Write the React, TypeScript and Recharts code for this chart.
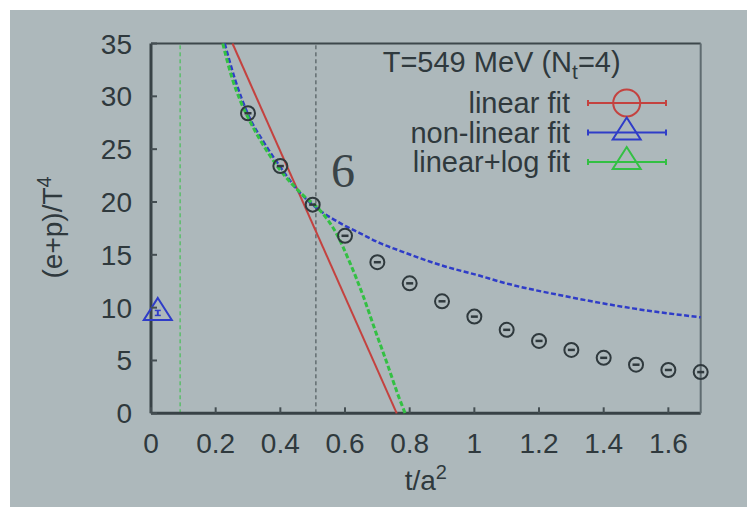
import React from 'react';
import {
  ComposedChart,
  Scatter,
  XAxis,
  YAxis,
  ReferenceLine,
  Legend,
  Label
} from 'recharts';

// lattice data, (e+p)/T^4 vs flow time t/a^2
const tValues = [0.3, 0.4, 0.5, 0.6, 0.7, 0.8, 0.9, 1.0, 1.1, 1.2, 1.3, 1.4, 1.5, 1.6, 1.7];
const epValues = [28.4, 23.4, 19.75, 16.8, 14.3, 12.3, 10.6, 9.15, 7.9, 6.85, 6.0, 5.25, 4.6, 4.1, 3.9];

// extrapolated value of the non-linear fit at t -> 0
const extrapT = [0.021];
const extrapE = [9.5];

// fit curves
const linearFitT = [0.252, 0.76];
const linearFitE = [35, 0];
const nonLinearFitT = [0.228, 0.26, 0.3, 0.35, 0.4, 0.46, 0.52, 0.585, 0.647, 0.71, 0.77, 0.895, 1.02, 1.08, 1.29, 1.49, 1.7];
const nonLinearFitE = [35, 31.6, 28.3, 25.6, 23.3, 20.9, 19.25, 18.0, 17.03, 16.08, 15.38, 14.03, 12.99, 12.45, 11.03, 9.93, 9.08];
const logFitT = [0.222, 0.25, 0.276, 0.3, 0.337, 0.4, 0.47, 0.523, 0.57, 0.616, 0.657, 0.693, 0.73, 0.766, 0.786];
const logFitE = [35, 31.8, 29.6, 28.0, 25.9, 23.0, 20.65, 19.2, 17.2, 14.19, 11.03, 7.88, 4.73, 1.57, 0];

// vertical markers
const greenCut = 0.09;
const blackCut = 0.51;

const xTicks = [0, 0.2, 0.4, 0.6, 0.8, 1.0, 1.2, 1.4, 1.6];
const yTicks = [0, 5, 10, 15, 20, 25, 30, 35];

const legendNames = ['linear fit', 'non-linear fit', 'linear+log fit'];
const legendMarkers = ['circle', 'triangle', 'triangle'];

const BG = '#adb8bb';
const INK = '#2f393d';
const TICK = '#444e52';
const RED = '#c4423f';
const BLUE = '#2f3cc8';
const GREEN = '#33c043';
const FONT = '"Liberation Sans", Arial, sans-serif';
const legendColors = [RED, BLUE, GREEN];

const toRows = (ts: number[], es: number[]) => ts.map((t, i) => ({ t, e: es[i] }));
const fmt = (v: number) => String(Math.round(v * 10) / 10);

const BottomTick = (props: any) => {
  const { x, y, payload } = props;
  return (
    <g>
      <line x1={x} y1={y} x2={x} y2={y - 6} stroke={TICK} strokeWidth={2} />
      <text x={x} y={y + 40} textAnchor="middle" fill={INK} fontSize={28} fontFamily={FONT}>
        {fmt(payload.value)}
      </text>
    </g>
  );
};

const LeftTick = (props: any) => {
  const { x, y, payload } = props;
  return (
    <g>
      <line x1={x} y1={y} x2={x + 6} y2={y} stroke={TICK} strokeWidth={2} />
      <text x={x - 19} y={y + 10} textAnchor="end" fill={INK} fontSize={28} fontFamily={FONT}>
        {payload.value}
      </text>
    </g>
  );
};

const TopTick = (props: any) => {
  const { x, y } = props;
  return <line x1={x} y1={y} x2={x} y2={y + 6} stroke="#5b666a" strokeWidth={2} />;
};

const RightTick = (props: any) => {
  const { x, y } = props;
  return <line x1={x} y1={y} x2={x - 6} y2={y} stroke="#5b666a" strokeWidth={2} />;
};

const DataPoint = (props: any) => {
  const { cx, cy } = props;
  return (
    <g>
      <circle cx={cx} cy={cy} r={7} fill="none" stroke={INK} strokeWidth={2} />
      <line x1={cx - 3.5} y1={cy} x2={cx + 3.5} y2={cy} stroke={INK} strokeWidth={2.5} />
    </g>
  );
};

const trianglePath = (cx: number, cy: number) =>
  `M${cx},${cy - 15} L${cx + 14},${cy + 7} L${cx - 14},${cy + 7} Z`;

const ExtrapPoint = (props: any) => {
  const { cx, cy } = props;
  return (
    <g>
      <path d={trianglePath(cx, cy)} fill="none" stroke={BLUE} strokeWidth={2} />
      <line x1={cx} y1={cy - 2.5} x2={cx} y2={cy + 2.5} stroke={BLUE} strokeWidth={2} />
      <line x1={cx - 3} y1={cy - 2.5} x2={cx + 3} y2={cy - 2.5} stroke={BLUE} strokeWidth={1.5} />
      <line x1={cx - 3} y1={cy + 2.5} x2={cx + 3} y2={cy + 2.5} stroke={BLUE} strokeWidth={1.5} />
    </g>
  );
};

const NoShape = () => <g />;

const YTitle = (props: any) => {
  const vb = props.viewBox;
  const cx = vb.x + 52;
  const cy = vb.y + vb.height / 2 - 1;
  return (
    <text x={cx} y={cy} transform={`rotate(-90 ${cx} ${cy})`} textAnchor="middle" fill={INK} fontSize={28} fontFamily={FONT}>
      (e+p)/T<tspan dy={-11} fontSize={20}>4</tspan>
    </text>
  );
};

const XTitle = (props: any) => {
  const vb = props.viewBox;
  return (
    <text x={vb.x + vb.width / 2} y={vb.y + 77} textAnchor="middle" fill={INK} fontSize={28} fontFamily={FONT}>
      t/a<tspan dy={-11} fontSize={20}>2</tspan>
    </text>
  );
};

const SixLabel = (props: any) => {
  const vb = props.viewBox;
  return (
    <text x={vb.x + 27} y={vb.y + 143} textAnchor="middle" fill="#3a4448" fontSize={48} fontFamily='"Liberation Serif", "DejaVu Serif", serif'>
      6
    </text>
  );
};

const LegendBox = () => (
  <svg width={737} height={497} style={{ position: 'absolute', left: 0, top: 0, overflow: 'visible' }}>
    <text x={372.7} y={62} fill={INK} fontSize={29} fontFamily={FONT}>
      T=549 MeV (N<tspan dy={7} fontSize={21}>t</tspan><tspan dy={-7}>=4)</tspan>
    </text>
    {legendNames.map((name, i) => {
      const y = 93 + i * 29.5;
      const c = legendColors[i];
      return (
        <g key={name}>
          <text x={560} y={y + 10} textAnchor="end" fill={INK} fontSize={29} fontFamily={FONT}>
            {name}
          </text>
          <line x1={578} y1={y} x2={656} y2={y} stroke={c} strokeWidth={2} />
          <line x1={578} y1={y - 3} x2={578} y2={y + 3} stroke={c} strokeWidth={2} />
          <line x1={656} y1={y - 3} x2={656} y2={y + 3} stroke={c} strokeWidth={2} />
          {legendMarkers[i] === 'circle' ? (
            <circle cx={616.7} cy={y} r={13.5} fill="none" stroke={c} strokeWidth={2} />
          ) : (
            <path d={trianglePath(616.7, y)} fill="none" stroke={c} strokeWidth={2} />
          )}
        </g>
      );
    })}
  </svg>
);

export default function App() {
  return (
    <div style={{ position: 'absolute', left: 0, top: 0, width: 747, height: 507, background: '#ffffff' }}>
      <div style={{ position: 'absolute', left: 10, top: 10, width: 737, height: 497, background: BG }}>
        <ComposedChart
          width={737}
          height={497}
          margin={{ top: 32.5, right: 45.3, left: 0, bottom: 0 }}
          style={{ fontFamily: FONT }}
        >
          <XAxis
            dataKey="t"
            type="number"
            domain={[0, 1.7]}
            ticks={xTicks}
            interval={0}
            height={93.7}
            tickSize={0}
            tickMargin={0}
            tickLine={false}
            tick={<BottomTick />}
            axisLine={{ stroke: '#384246', strokeWidth: 3 }}
          >
            <Label content={<XTitle />} />
          </XAxis>
          <XAxis
            xAxisId="top"
            orientation="top"
            type="number"
            domain={[0, 1.7]}
            ticks={xTicks.slice(1)}
            interval={0}
            height={1}
            tickSize={0}
            tickMargin={0}
            tickLine={false}
            tick={<TopTick />}
            axisLine={{ stroke: '#3d474b', strokeWidth: 2 }}
          />
          <YAxis
            dataKey="e"
            type="number"
            domain={[0, 35]}
            ticks={yTicks}
            interval={0}
            width={141}
            tickSize={0}
            tickMargin={0}
            tickLine={false}
            tick={<LeftTick />}
            axisLine={{ stroke: '#384246', strokeWidth: 3 }}
          >
            <Label content={<YTitle />} />
          </YAxis>
          <YAxis
            yAxisId="right"
            orientation="right"
            type="number"
            domain={[0, 35]}
            ticks={yTicks.slice(1, -1)}
            interval={0}
            width={1}
            tickSize={0}
            tickMargin={0}
            tickLine={false}
            tick={<RightTick />}
            axisLine={{ stroke: '#5f6b70', strokeWidth: 2 }}
          />

          <ReferenceLine x={greenCut} stroke={GREEN} strokeWidth={1} strokeDasharray="4 3" />
          <ReferenceLine x={blackCut} stroke="#3d474b" strokeWidth={1} strokeDasharray="4 3" label={<SixLabel />} />

          <Scatter
            data={toRows(linearFitT, linearFitE)}
            line={{ stroke: RED, strokeWidth: 2 }}
            shape={<NoShape />}
            isAnimationActive={false}
          />
          <Scatter
            data={toRows(nonLinearFitT, nonLinearFitE)}
            line={{ stroke: BLUE, strokeWidth: 2.5, strokeDasharray: '5 2.5' }}
            lineJointType="monotoneX"
            shape={<NoShape />}
            isAnimationActive={false}
          />
          <Scatter
            data={toRows(logFitT, logFitE)}
            line={{ stroke: GREEN, strokeWidth: 3, strokeDasharray: '5 2.5' }}
            lineJointType="monotoneX"
            shape={<NoShape />}
            isAnimationActive={false}
          />
          <Scatter data={toRows(tValues, epValues)} shape={<DataPoint />} isAnimationActive={false} />
          <Scatter data={toRows(extrapT, extrapE)} shape={<ExtrapPoint />} isAnimationActive={false} />

          <Legend
            layout="vertical"
            align="center"
            verticalAlign="middle"
            content={<LegendBox />}
            wrapperStyle={{ left: 0, top: 0, width: 737, height: 497, pointerEvents: 'none' }}
          />
        </ComposedChart>
      </div>
    </div>
  );
}
